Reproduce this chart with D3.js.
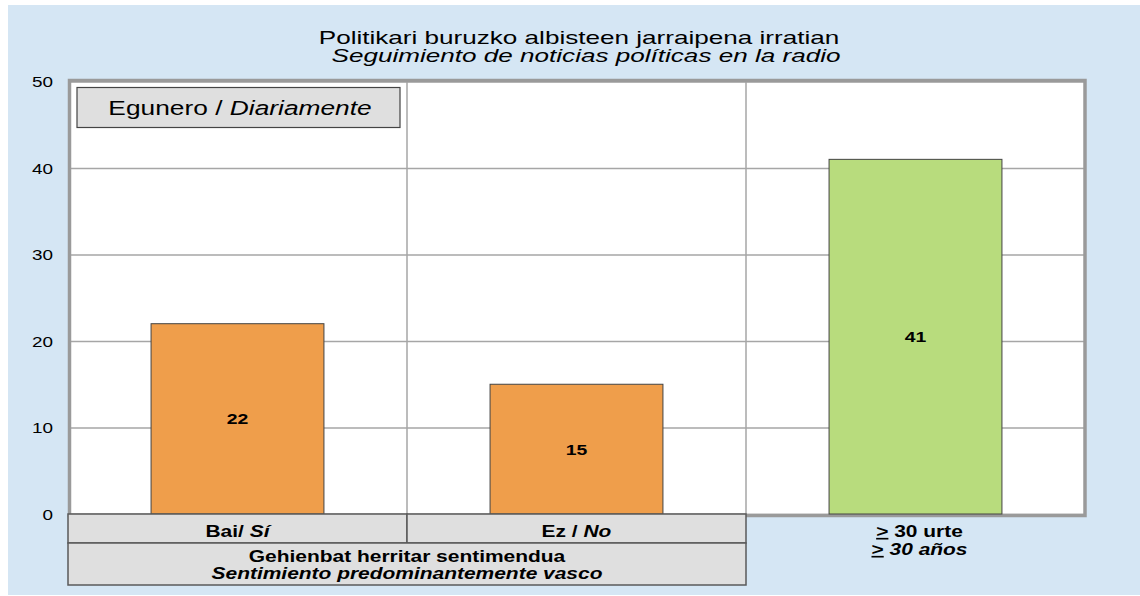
<!DOCTYPE html>
<html>
<head>
<meta charset="utf-8">
<script src="https://cdn.jsdelivr.net/npm/d3@7"></script>
<style>
  body { margin: 0; background: #fff; }
  text { font-family: "Liberation Sans", Arial, sans-serif; fill: #000; }
</style>
</head>
<body>
<svg width="1140" height="596"></svg>
<script>
// data
const categories = ["Bai", "Ez", "30"];
const labelsEu = ["Bai/ ", "Ez / ", "30 urte"];
const labelsEs = ["Sí", "No", "30 años"];
const values = [22, 15, 41];
const groups = ["vasco", "vasco", "edad"];
const yTicks = [0, 10, 20, 30, 40, 50];
const titleEu = "Politikari buruzko albisteen jarraipena irratian";
const titleEs = "Seguimiento de noticias políticas en la radio";
const groupEu = "Gehienbat herritar sentimendua";
const groupEs = "Sentimiento predominantemente vasco";

const colors = { vasco: "#ef9e4b", edad: "#b8dc7d" };

function draw() {
  var svg = d3.select("svg");

  // light blue background
  svg.append("rect")
    .attr("x", 8).attr("y", 5)
    .attr("width", 1132).attr("height", 590)
    .attr("fill", "#d5e6f4");

  var pl = 68, pr = 1085, pt = 81.5, pb = 514;

  var x = d3.scaleBand().domain(categories).range([pl, pr])
    .paddingInner(0.49).paddingOuter(0.245);
  var xb = d3.scaleBand().domain(categories).range([pl, pr]);
  var y = d3.scaleLinear().domain([0, 50]).range([pb, pt]);

  // the source text is stretched wide, so scale it horizontally
  function stext(g, px, py, size, weight, anchor, sx) {
    return g.append("text")
      .attr("transform", "translate(" + px + "," + py + ") scale(" + (sx || 1.25) + ",1)")
      .attr("text-anchor", anchor || "middle")
      .style("font-size", size + "px")
      .style("font-weight", weight || "normal");
  }

  // plot background
  svg.append("rect")
    .attr("x", pl).attr("y", pt)
    .attr("width", pr - pl).attr("height", pb - pt)
    .attr("fill", "#fff");

  // gridlines + y labels
  var yAxis = svg.append("g")
    .attr("transform", "translate(" + pl + ",0)")
    .call(d3.axisLeft(y).tickValues(yTicks).tickSize(-(pr - pl)).tickFormat(""));
  yAxis.select(".domain").remove();
  yAxis.selectAll(".tick line").attr("stroke", "#a6a6a6").attr("stroke-width", 1.5);

  yTicks.forEach(function(t) {
    stext(svg, 53, y(t) + 5.5, 15.5, "normal", "end", 1.22).text(t);
  });

  // vertical dividers between categories
  svg.selectAll(".vdiv")
    .data(categories.slice(1))
    .enter().append("line")
    .attr("x1", function(d) { return xb(d); })
    .attr("x2", function(d) { return xb(d); })
    .attr("y1", pt).attr("y2", pb)
    .attr("stroke", "#a6a6a6").attr("stroke-width", 1.5);

  // plot frame
  svg.append("rect")
    .attr("x", pl + 1.5).attr("y", pt - 1)
    .attr("width", pr - pl - 1.5).attr("height", pb - pt + 2.5)
    .attr("fill", "none")
    .attr("stroke", "#9a9a9a").attr("stroke-width", 3.5);

  // bars
  svg.selectAll(".bar")
    .data(categories)
    .enter().append("rect")
    .attr("x", function(d) { return x(d); })
    .attr("y", function(d, i) { return y(values[i]); })
    .attr("width", x.bandwidth())
    .attr("height", function(d, i) { return y(0) - y(values[i]); })
    .attr("fill", function(d, i) { return colors[groups[i]]; })
    .attr("stroke", "#444").attr("stroke-width", 1);

  // value labels
  categories.forEach(function(d, i) {
    stext(svg, x(d) + x.bandwidth() / 2, y(values[i] / 2) + 5.5, 15.5, "bold").text(values[i]);
  });

  // category table under the first two bars
  var vascoCats = categories.filter(function(d, i) { return groups[i] == "vasco"; });
  var tLeft = xb(vascoCats[0]), tRight = xb(vascoCats[vascoCats.length - 1]) + xb.bandwidth();

  svg.selectAll(".cell")
    .data(vascoCats)
    .enter().append("rect")
    .attr("x", function(d) { return xb(d); })
    .attr("y", pb)
    .attr("width", xb.bandwidth())
    .attr("height", 29)
    .attr("fill", "#dfdfdf")
    .attr("stroke", "#5a5a5a").attr("stroke-width", 1.5);

  svg.append("rect")
    .attr("x", tLeft).attr("y", pb + 29)
    .attr("width", tRight - tLeft).attr("height", 42)
    .attr("fill", "#dfdfdf")
    .attr("stroke", "#5a5a5a").attr("stroke-width", 1.5);

  categories.forEach(function(d, i) {
    var cx = xb(d) + xb.bandwidth() / 2;
    if (groups[i] == "vasco") {
      var t = stext(svg, cx, pb + 22.5, 16.5, "bold", "middle", 1.27);
      t.append("tspan").text(labelsEu[i]);
      t.append("tspan").style("font-style", "italic").text(labelsEs[i]);
    } else {
      var t1 = stext(svg, cx + 4, pb + 23, 16.5, "bold", "middle", 1.27);
      t1.append("tspan").style("text-decoration", "underline").text(">");
      t1.append("tspan").text(" " + labelsEu[i]);
      var t2 = stext(svg, cx + 4, pb + 41, 16.5, "bold", "middle", 1.27);
      t2.append("tspan").style("text-decoration", "underline").text(">");
      t2.append("tspan").style("font-style", "italic").text(" " + labelsEs[i]);
    }
  });

  stext(svg, (tLeft + tRight) / 2, pb + 47.5, 16, "bold", "middle", 1.31).text(groupEu);
  stext(svg, (tLeft + tRight) / 2, pb + 64.5, 16, "bold", "middle", 1.31).style("font-style", "italic").text(groupEs);

  // legend box
  svg.append("rect")
    .attr("x", 77).attr("y", 87.5)
    .attr("width", 323).attr("height", 40)
    .attr("fill", "#dfdfdf")
    .attr("stroke", "#444").attr("stroke-width", 1.2);
  var lg = stext(svg, 240, 114.5, 19.5, "normal", "middle", 1.35);
  lg.append("tspan").text("Egunero / ");
  lg.append("tspan").style("font-style", "italic").text("Diariamente");

  // title
  stext(svg, 579, 43.5, 18, "normal", "middle", 1.45).text(titleEu);
  stext(svg, 586, 62, 18, "normal", "middle", 1.45).style("font-style", "italic").text(titleEs);
}
draw();
</script>
</body>
</html>
